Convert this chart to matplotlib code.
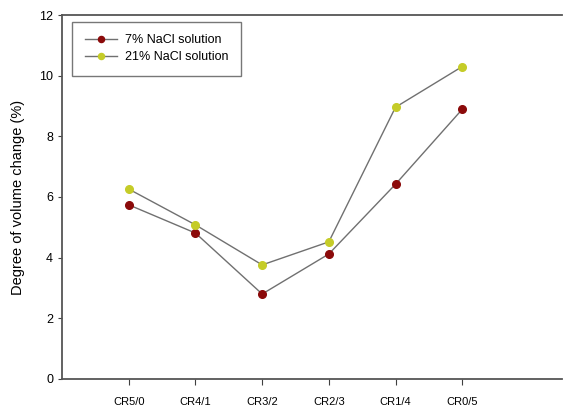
import numpy as np
import matplotlib.pyplot as plt

plt.rcParams['font.family'] = ['Liberation Sans', 'DejaVu Sans']

# data
categories = ['CR5/0', 'CR4/1', 'CR3/2', 'CR2/3', 'CR1/4', 'CR0/5']
nacl_7 = [5.74, 4.81, 2.80, 4.12, 6.42, 8.89]
nacl_21 = [6.26, 5.08, 3.76, 4.52, 8.96, 10.30]

x = np.arange(len(categories))

fig = plt.figure(figsize=(5.65, 4.07), dpi=100)
ax = fig.add_axes([0.110, 0.069, 0.885, 0.894])

ax.plot(x, nacl_7, color='#707070', lw=1.0, marker='o', ms=5.5,
        mfc='#8b0a0a', mec='#8b0a0a', label='7% NaCl solution')
ax.plot(x, nacl_21, color='#707070', lw=1.0, marker='o', ms=5.5,
        mfc='#c5cc28', mec='#c5cc28', label='21% NaCl solution')

ax.set_xlim(-1, 6.5)
ax.set_ylim(0, 12)
ax.set_xticks(x)
ax.set_xticklabels(categories, fontsize=8)
ax.set_yticks([0, 2, 4, 6, 8, 10, 12])
ax.tick_params(axis='y', labelsize=9, direction='out', length=3, color='#404040')
ax.tick_params(axis='x', direction='out', length=4, pad=9, color='#404040')
ax.set_ylabel('Degree of volume change (%)', fontsize=10.5, labelpad=10)

ax.spines['right'].set_visible(False)
for s in ['left', 'bottom', 'top']:
    ax.spines[s].set_color('#555555')
    ax.spines[s].set_linewidth(1.3)

leg = ax.legend(loc='upper left', bbox_to_anchor=(0.008, 0.999), fontsize=9,
                frameon=True, fancybox=False, edgecolor='#555555',
                handlelength=2.6, handletextpad=0.6, borderpad=1.0,
                labelspacing=0.4, markerscale=0.8)
leg.get_frame().set_linewidth(1.0)

fig.savefig('out.png', dpi=100)
